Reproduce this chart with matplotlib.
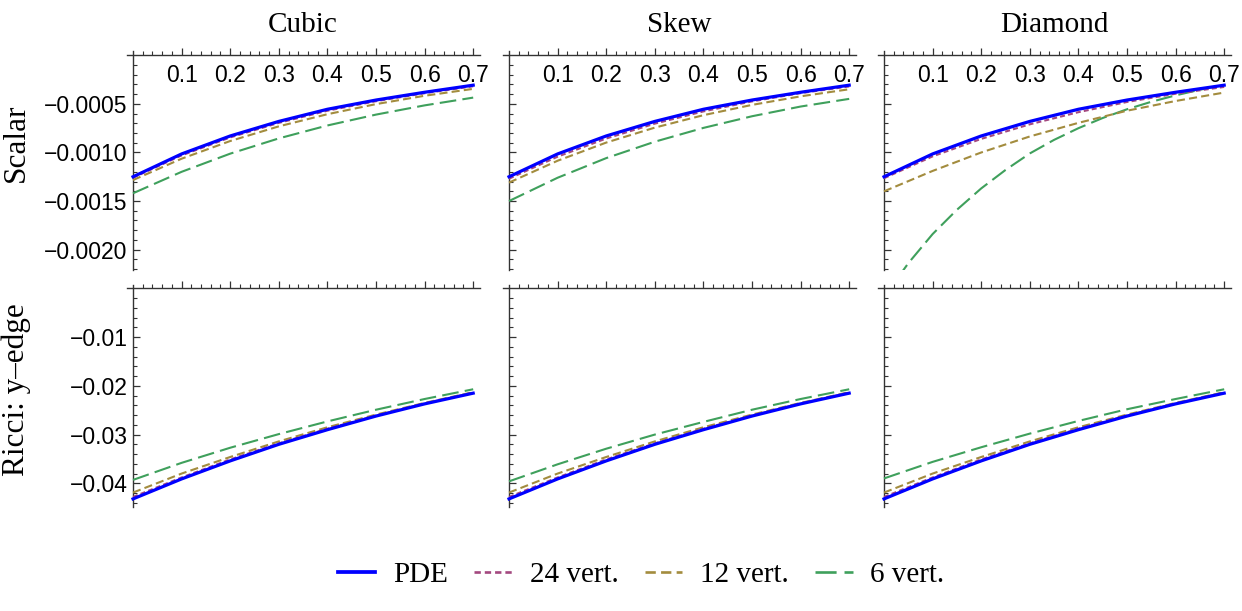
import matplotlib
matplotlib.use("Agg")
import matplotlib.pyplot as plt
import numpy as np
from matplotlib.lines import Line2D
from matplotlib.ticker import FixedLocator, FuncFormatter

# ---- data ----
LATTICES = ["Cubic", "Skew", "Diamond"]
ROW_LABELS = ["Scalar", "Ricci: y\u2013edge"]
SERIES = ["PDE", "24 vert.", "12 vert.", "6 vert."]

X = [0.0, 0.1, 0.2, 0.3, 0.4, 0.5, 0.6, 0.7]
X_FINE = [0.0, 0.05, 0.1, 0.15, 0.2, 0.25, 0.3, 0.35,
          0.4, 0.45, 0.5, 0.55, 0.6, 0.65, 0.7]

# scalar curvature, units of 1e-4
SCALAR_PDE = [-12.5, -10.15, -8.3, -6.8, -5.55, -4.6, -3.8, -3.07]
SCALAR_CUBIC_24 = [-12.6, -10.3, -8.45, -6.95, -5.7, -4.72, -3.9, -3.18]
SCALAR_CUBIC_12 = [-12.84, -10.64, -8.82, -7.31, -6.06, -5.02, -4.16, -3.45]
SCALAR_CUBIC_6 = [-14.2, -11.99, -10.12, -8.55, -7.22, -6.1, -5.15, -4.35]
SCALAR_SKEW_24 = [-12.7, -10.43, -8.56, -7.03, -5.77, -4.74, -3.89, -3.2]
SCALAR_SKEW_12 = [-13.1, -10.85, -8.98, -7.44, -6.16, -5.1, -4.22, -3.49]
SCALAR_SKEW_6 = [-15.0, -12.6, -10.58, -8.89, -7.47, -6.27, -5.27, -4.48]
SCALAR_DIAMOND_24 = [-12.65, -10.4, -8.6, -7.1, -5.85, -4.8, -3.95, -3.25]
SCALAR_DIAMOND_12 = [-14.0, -11.9, -10.0, -8.35, -6.95, -5.7, -4.7, -3.83]
SCALAR_DIAMOND_6 = [-24.9, -21.4, -18.4, -15.9, -13.7, -11.8, -10.1, -8.7,
                     -7.5, -6.45, -5.55, -4.78, -4.12, -3.54, -3.04]

# Ricci y-edge, units of 1e-2
RICCI_PDE = [-4.32, -3.91, -3.54, -3.20, -2.90, -2.62, -2.37, -2.15]
RICCI_24 = [-4.28, -3.88, -3.51, -3.18, -2.88, -2.61, -2.36, -2.14]
RICCI_12 = [-4.19, -3.80, -3.46, -3.14, -2.85, -2.59, -2.35, -2.13]
RICCI_CUBIC_6 = [-3.93, -3.58, -3.27, -2.99, -2.73, -2.49, -2.27, -2.07]
RICCI_SKEW_6 = [-3.96, -3.61, -3.29, -3.00, -2.74, -2.49, -2.27, -2.07]
RICCI_DIAMOND_6 = [-3.90, -3.56, -3.26, -2.98, -2.72, -2.48, -2.27, -2.07]

SCALAR = {
    "Cubic": [(X, SCALAR_PDE), (X, SCALAR_CUBIC_24), (X, SCALAR_CUBIC_12), (X, SCALAR_CUBIC_6)],
    "Skew": [(X, SCALAR_PDE), (X, SCALAR_SKEW_24), (X, SCALAR_SKEW_12), (X, SCALAR_SKEW_6)],
    "Diamond": [(X, SCALAR_PDE), (X, SCALAR_DIAMOND_24), (X, SCALAR_DIAMOND_12), (X_FINE, SCALAR_DIAMOND_6)],
}
RICCI = {
    "Cubic": [(X, RICCI_PDE), (X, RICCI_24), (X, RICCI_12), (X, RICCI_CUBIC_6)],
    "Skew": [(X, RICCI_PDE), (X, RICCI_24), (X, RICCI_12), (X, RICCI_SKEW_6)],
    "Diamond": [(X, RICCI_PDE), (X, RICCI_24), (X, RICCI_12), (X, RICCI_DIAMOND_6)],
}

# ---- style ----
COLORS = ["#0000FF", "#A3487F", "#A38C3E", "#3FA05C"]
WIDTHS = [2.3, 1.5, 1.5, 1.5]
DASHES = ["-", (0, (2.4, 1.5)), (0, (3.9, 2.0)), (0, (8.0, 3.0))]

SANS = "Liberation Sans"
SERIF = "Liberation Serif"
AXIS_COLOR = "#333333"

W, H = 1242, 611
fig = plt.figure(figsize=(W / 100, H / 100), dpi=100)

col_left_px = [126.7, 502.7, 877.7]
ax_w_px = 353.3
rows = [
    # (top px, bottom px, ylim, scale, major step, minor step, fmt)
    (50.5, 270.0, (-0.00221, 0.00005), 1e-4, 0.0005, 0.0001, "{:.4f}"),
    (284.5, 506.7, (-0.0448, 0.0008), 1e-2, 0.01, 0.002, "{:.2f}"),
]


def fmt_factory(fmt):
    return FuncFormatter(lambda v, p: fmt.format(v).replace("-", "\u2212"))


for r, (top, bot, ylim, scale, major, minor, fmt) in enumerate(rows):
    data = SCALAR if r == 0 else RICCI
    for c, lat in enumerate(LATTICES):
        ax = fig.add_axes([col_left_px[c] / W, 1 - bot / H,
                           ax_w_px / W, (bot - top) / H])
        for k, (xs, ys) in enumerate(data[lat]):
            ax.plot(xs, np.array(ys) * scale, color=COLORS[k], lw=WIDTHS[k],
                    linestyle=DASHES[k], zorder=3 + (3 - k) if k else 7)
        ax.set_xlim(-0.013, 0.714)
        ax.set_ylim(*ylim)

        for side in ["right", "bottom"]:
            ax.spines[side].set_visible(False)
        ax.spines["left"].set_position(("data", 0))
        ax.spines["top"].set_position(("data", 0))
        for side in ["left", "top"]:
            ax.spines[side].set_color(AXIS_COLOR)
            ax.spines[side].set_linewidth(1.0)

        # x ticks on the axis line at y=0, labels below it
        ax.xaxis.set_ticks_position("top")
        ax.xaxis.set_major_locator(FixedLocator([0.1, 0.2, 0.3, 0.4, 0.5, 0.6, 0.7]))
        ax.xaxis.set_minor_locator(FixedLocator(np.arange(1, 36) * 0.02))
        ax.xaxis.set_major_formatter(FuncFormatter(lambda v, p: f"{v:.1f}"))
        ax.tick_params(axis="x", which="major", direction="out", length=5,
                       width=0.9, color=AXIS_COLOR, pad=-28,
                       labelsize=16.5, labeltop=(r == 0), labelbottom=False)
        ax.tick_params(axis="x", which="minor", direction="out", length=3,
                       width=0.8, color=AXIS_COLOR)

        nmaj = int(round(-ylim[0] / major))
        ax.yaxis.set_major_locator(FixedLocator([-major * i for i in range(1, nmaj + 1)]))
        nmin = int(-ylim[0] / minor + 1e-6)
        ax.yaxis.set_minor_locator(FixedLocator([-minor * i for i in range(1, nmin + 1)]))
        ax.yaxis.set_major_formatter(fmt_factory(fmt))
        ax.tick_params(axis="y", which="major", direction="in", length=5,
                       width=0.9, color=AXIS_COLOR, pad=4.0,
                       labelsize=16.5, labelleft=(c == 0))
        ax.tick_params(axis="y", which="minor", direction="in", length=3,
                       width=0.8, color=AXIS_COLOR)
        for lab in ax.get_xticklabels() + ax.get_yticklabels():
            lab.set_fontfamily(SANS)
        ax.patch.set_visible(False)

# column titles
for c, lat in enumerate(LATTICES):
    cx = (col_left_px[c] + 6.3 + 170) / W
    fig.text(cx, 1 - 25 / H, lat, ha="center", va="center",
             fontsize=21, fontfamily=SERIF)

# row labels
fig.text(16 / W, 1 - 143 / H, ROW_LABELS[0], rotation=90, ha="center",
         va="center", fontsize=22.5, fontfamily=SERIF)
fig.text(16 / W, 1 - 390 / H, ROW_LABELS[1], rotation=90, ha="center",
         va="center", fontsize=22.5, fontfamily=SERIF)

# legend
handles = [Line2D([], [], color=COLORS[k], lw=WIDTHS[k] + 0.4, linestyle=DASHES[k])
           for k in range(4)]
fig.legend(handles, SERIES, loc="center", bbox_to_anchor=(641 / W, 1 - 575 / H),
           ncol=4, frameon=False, handlelength=1.3, handletextpad=0.6,
           columnspacing=0.9, prop={"family": SERIF, "size": 21})

fig.savefig("out.png", dpi=100)
